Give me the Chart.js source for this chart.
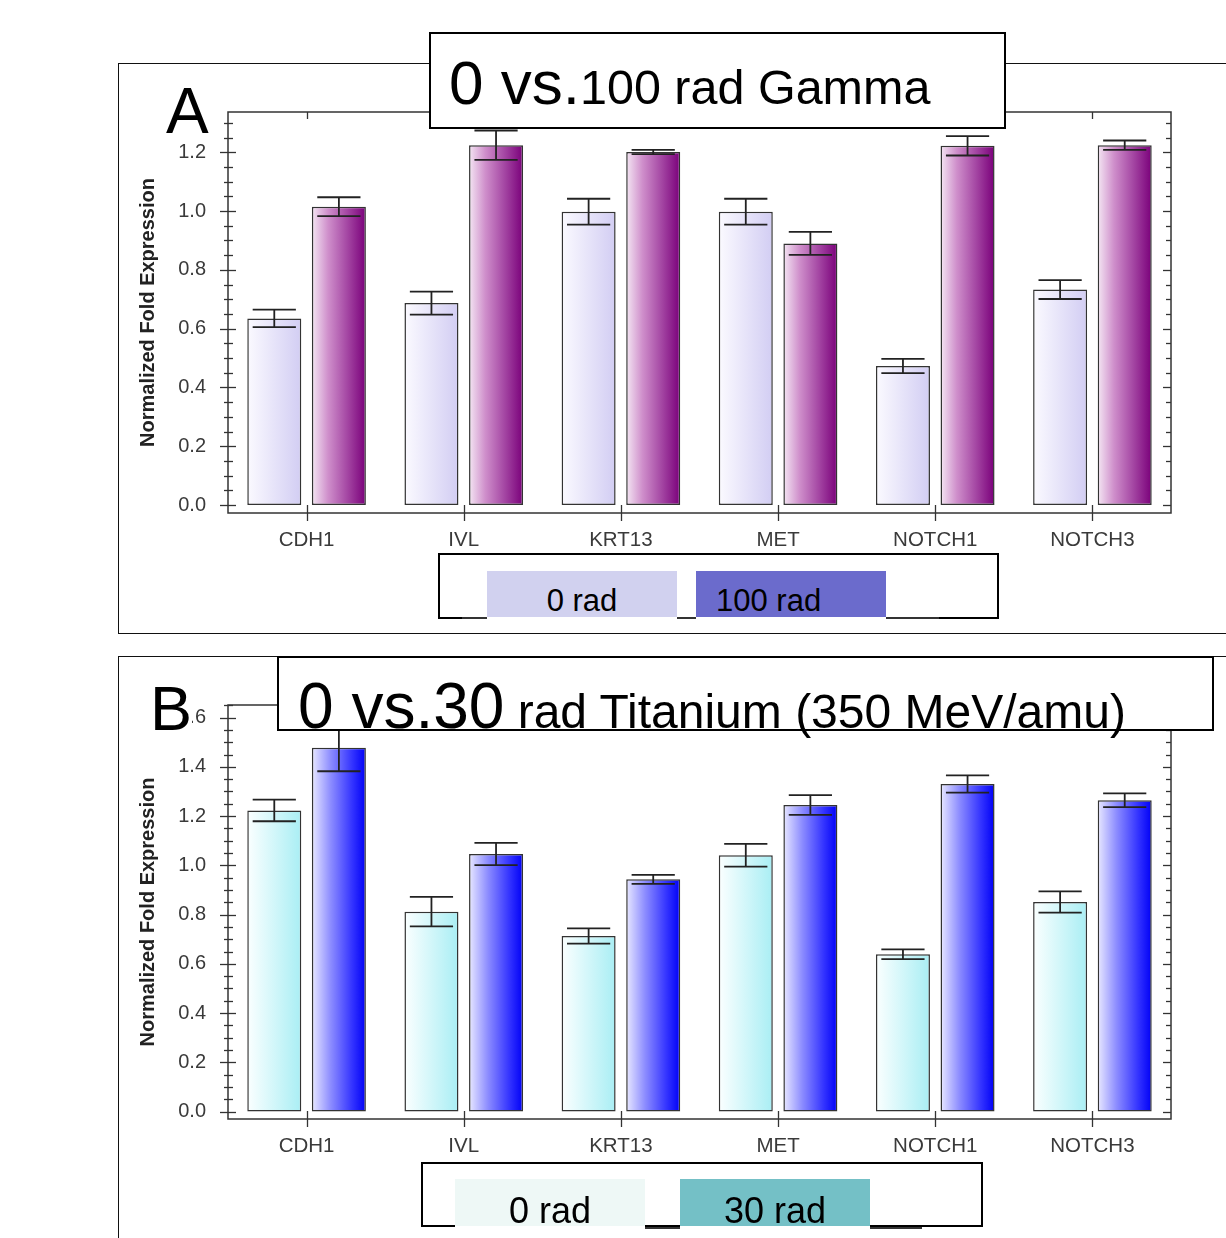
<!DOCTYPE html>
<html>
<head>
<meta charset="UTF-8" />
<title>Normalized Fold Expression - Gamma / Titanium</title>
<script src="https://cdn.jsdelivr.net/npm/chart.js"></script>
<style>
  body { margin: 0; background: #fff; font-family: 'Liberation Sans', Arial, sans-serif; }
  #page { position: relative; width: 1226px; height: 1238px; overflow: hidden; background: #fff; }
  .panel { position: absolute; border: 1.5px solid #111; box-sizing: border-box; }
  canvas.chart { position: absolute; z-index: 1; }
  .title-box { position: absolute; background: #fff; border: 2px solid #000; box-sizing: border-box; z-index: 3; }
  .title-text { position: absolute; line-height: 1; white-space: nowrap; color: #000; z-index: 4; }
  .letter { position: absolute; line-height: 1; color: #000; z-index: 4; background: #fff; }
  .legend-box { position: absolute; border: 2px solid #000; box-sizing: border-box; background: #fff; z-index: 3; }
  .legend-line { position: absolute; height: 2px; background: #333; z-index: 4; }
  .swatch { position: absolute; width: 190px; border-bottom: 3px solid #fff; z-index: 5; }
  .swatch span { position: absolute; left: 0; right: 0; text-align: center; line-height: 1; color: #000; white-space: nowrap; }
</style>
</head>
<body>
<div id="page">
  <!-- panel A -->
  <div class="panel" style="left:118px; top:63px; width:1130px; height:571px;"></div>
  <canvas id="chartA" class="chart" width="1106" height="560" style="left:120px; top:64px;"></canvas>
  <div class="title-box" style="left:429px; top:32px; width:577px; height:97px;"></div>
  <div class="title-text" style="left:449px; top:51.5px; font-size:62px;">0 vs.<span style="font-size:48.5px;">100 rad Gamma</span></div>
  <div class="letter" style="left:166px; top:79px; font-size:64px; background:transparent;">A</div>
  <div class="legend-box" style="left:438px; top:553px; width:561px; height:66px;"></div>
  <div class="legend-line" style="left:462px; top:617px; width:477px;"></div>
  <div class="swatch" id="legA0" style="left:487px; top:571px; height:46px; background:#d1d1ef;"><span style="top:14px; font-size:31px;"></span></div>
  <div class="swatch" id="legA1" style="left:696px; top:571px; height:46px; background:#6b6bcc;"><span style="top:14px; font-size:31px; text-align:left; padding-left:20px;"></span></div>

  <!-- panel B -->
  <div class="panel" style="left:118px; top:656px; width:1130px; height:620px;"></div>
  <canvas id="chartB" class="chart" width="1106" height="560" style="left:120px; top:657px;"></canvas>
  <div class="title-box" style="left:277px; top:656px; width:937px; height:75px;"></div>
  <div class="title-text" style="left:298px; top:674px; font-size:64px;">0 vs.30<span style="font-size:48px;"> rad Titanium (350 MeV/amu)</span></div>
  <div class="letter" style="left:150px; top:677px; font-size:63px;">B</div>
  <div class="legend-box" style="left:421px; top:1162px; width:562px; height:65px;"></div>
  <div class="legend-line" style="left:480px; top:1227px; width:442px;"></div>
  <div class="swatch" id="legB0" style="left:455px; top:1179px; height:47px; background:#eef8f6;"><span style="top:14px; font-size:36px;"></span></div>
  <div class="swatch" id="legB1" style="left:680px; top:1179px; height:47px; background:#74c0c6;"><span style="top:14px; font-size:36px;"></span></div>
</div>

<script>
  // genes on the x axis
  const genes = ["CDH1", "IVL", "KRT13", "MET", "NOTCH1", "NOTCH3"];

  // A: 0 vs 100 rad gamma
  const gamma0 = [0.635, 0.687, 0.998, 0.998, 0.473, 0.733];
  const gamma0Err = [0.030, 0.039, 0.044, 0.044, 0.024, 0.032];
  const gamma100 = [1.015, 1.224, 1.201, 0.890, 1.222, 1.224];
  const gamma100Err = [0.032, 0.050, 0.007, 0.039, 0.033, 0.016];

  // B: 0 vs 30 rad titanium
  const titan0 = [1.223, 0.812, 0.713, 1.041, 0.639, 0.851];
  const titan0Err = [0.044, 0.060, 0.031, 0.046, 0.020, 0.043];
  const titan30 = [1.477, 1.046, 0.943, 1.245, 1.330, 1.264];
  const titan30Err = [0.095, 0.045, 0.018, 0.040, 0.035, 0.028];

  // tick labels
  const yTicksA = [0.0, 0.2, 0.4, 0.6, 0.8, 1.0, 1.2];
  const yTicksB = [0.0, 0.2, 0.4, 0.6, 0.8, 1.0, 1.2, 1.4, 1.6];

  // legend names
  const namesA = ["0 rad", "100 rad"];
  const namesB = ["0 rad", "30 rad"];

  const CAT_PCT = 0.822;
  const BAR_PCT = 0.836;
  const FONT = "'Liberation Sans', Arial, sans-serif";

  // horizontal gradient across each bar, computed from the x scale
  function gradientFill(stops) {
    return function (c) {
      const chart = c.chart;
      const x = chart.scales.x;
      if (c.type !== 'data' || !x || !x.width) return stops[stops.length - 1][1];
      const nDs = chart.data.datasets.length;
      const catW = x.width / chart.data.labels.length;
      const slot = catW * CAT_PCT / nDs;
      const cx = x.getPixelForValue(c.dataIndex) + (c.datasetIndex - (nDs - 1) / 2) * slot;
      const w = slot * BAR_PCT;
      const g = chart.ctx.createLinearGradient(cx - w / 2, 0, cx + w / 2, 0);
      stops.forEach(s => g.addColorStop(s[0], s[1]));
      return g;
    };
  }

  function seg(ctx, x1, y1, x2, y2) {
    ctx.beginPath();
    ctx.moveTo(x1, y1);
    ctx.lineTo(x2, y2);
    ctx.stroke();
  }

  // error bars, plot frame and tick marks
  const decorations = {
    id: 'decorations',
    afterDatasetsDraw(chart) {
      const ctx = chart.ctx;
      const a = chart.chartArea;
      const x = chart.scales.x, y = chart.scales.y;
      ctx.save();

      ctx.strokeStyle = '#222';
      ctx.lineWidth = 1.8;
      chart.data.datasets.forEach((ds, di) => {
        chart.getDatasetMeta(di).data.forEach((bar, i) => {
          const v = ds.data[i], e = ds.errors[i];
          const yt = y.getPixelForValue(v + e);
          const yb = y.getPixelForValue(v - e);
          const half = bar.width * 0.4;
          seg(ctx, bar.x, yt, bar.x, yb);
          seg(ctx, bar.x - half, yt, bar.x + half, yt);
          seg(ctx, bar.x - half, yb, bar.x + half, yb);
        });
      });

      ctx.strokeStyle = '#333';
      ctx.lineWidth = 1.5;
      ctx.strokeRect(a.left, a.top, a.right - a.left, a.bottom - a.top);

      // y ticks: majors every 0.2, minors every 0.05
      ctx.lineWidth = 1.3;
      const start = Math.ceil(y.min / 0.05 - 1e-9);
      for (let k = start; k * 0.05 <= y.max + 1e-9; k++) {
        const py = Math.round(y.getPixelForValue(k * 0.05)) + 0.5;
        const major = k % 4 === 0;
        if (major) {
          seg(ctx, a.left - 8, py, a.left + 8, py);
          seg(ctx, a.right - 8, py, a.right, py);
        } else {
          seg(ctx, a.left - 4, py, a.left + 5, py);
          seg(ctx, a.right - 5, py, a.right, py);
        }
      }
      // x ticks at category centres
      chart.data.labels.forEach((l, i) => {
        const px = Math.round(x.getPixelForValue(i)) + 0.5;
        seg(ctx, px, a.bottom - 8, px, a.bottom + 8);
        seg(ctx, px, a.top, px, a.top + 7);
      });
      ctx.restore();
    }
  };

  function makeChart(id, sets, yMin, yMax, yTicks, axisHeight) {
    return new Chart(document.getElementById(id), {
      type: 'bar',
      data: {
        labels: genes,
        datasets: sets.map(s => ({
          label: s.label,
          data: s.data,
          errors: s.err,
          backgroundColor: gradientFill(s.stops),
          borderColor: '#333',
          borderWidth: 1.5,
          borderSkipped: false,
          categoryPercentage: CAT_PCT,
          barPercentage: BAR_PCT
        }))
      },
      options: {
        responsive: false,
        animation: false,
        events: [],
        layout: { padding: { top: 48, right: 55, left: 0, bottom: 0 } },
        plugins: { legend: { display: false }, tooltip: { enabled: false } },
        scales: {
          x: {
            grid: { display: false, drawTicks: false },
            border: { display: false },
            ticks: { color: '#3a3a3a', padding: 15, maxRotation: 0, autoSkip: false, font: { family: FONT, size: 20.5 } },
            afterFit: s => { s.height = axisHeight; }
          },
          y: {
            min: yMin,
            max: yMax,
            grid: { display: false, drawTicks: false },
            border: { display: false },
            afterBuildTicks: s => { s.ticks = yTicks.map(v => ({ value: v })); },
            ticks: { color: '#3a3a3a', padding: 22, font: { family: FONT, size: 20 }, callback: v => Number(v).toFixed(1) },
            title: {
              display: true,
              text: 'Normalized Fold Expression',
              color: '#222',
              font: { family: FONT, size: 20, weight: 'bold' },
              padding: { top: 16, bottom: 0 }
            },
            afterFit: s => { s.width = 108; }
          }
        }
      },
      plugins: [decorations]
    });
  }

  makeChart('chartA', [
    { label: namesA[0], data: gamma0, err: gamma0Err,
      stops: [[0, '#fbfaff'], [1, '#d2cdf3']] },
    { label: namesA[1], data: gamma100, err: gamma100Err,
      stops: [[0, '#f4e6f3'], [0.3, '#cf8fcb'], [0.65, '#a548a4'], [1, '#7a007a']] }
  ], -0.027, 1.337, yTicksA, 111);

  makeChart('chartB', [
    { label: namesB[0], data: titan0, err: titan0Err,
      stops: [[0, '#fbffff'], [1, '#a9eef4']] },
    { label: namesB[1], data: titan30, err: titan30Err,
      stops: [[0, '#e8e8ff'], [0.35, '#8c8cff'], [0.75, '#3333ff'], [1, '#0000f6']] }
  ], -0.03, 1.651, yTicksB, 98);

  document.querySelector('#legA0 span').textContent = namesA[0];
  document.querySelector('#legA1 span').textContent = namesA[1];
  document.querySelector('#legB0 span').textContent = namesB[0];
  document.querySelector('#legB1 span').textContent = namesB[1];
</script>
</body>
</html>
